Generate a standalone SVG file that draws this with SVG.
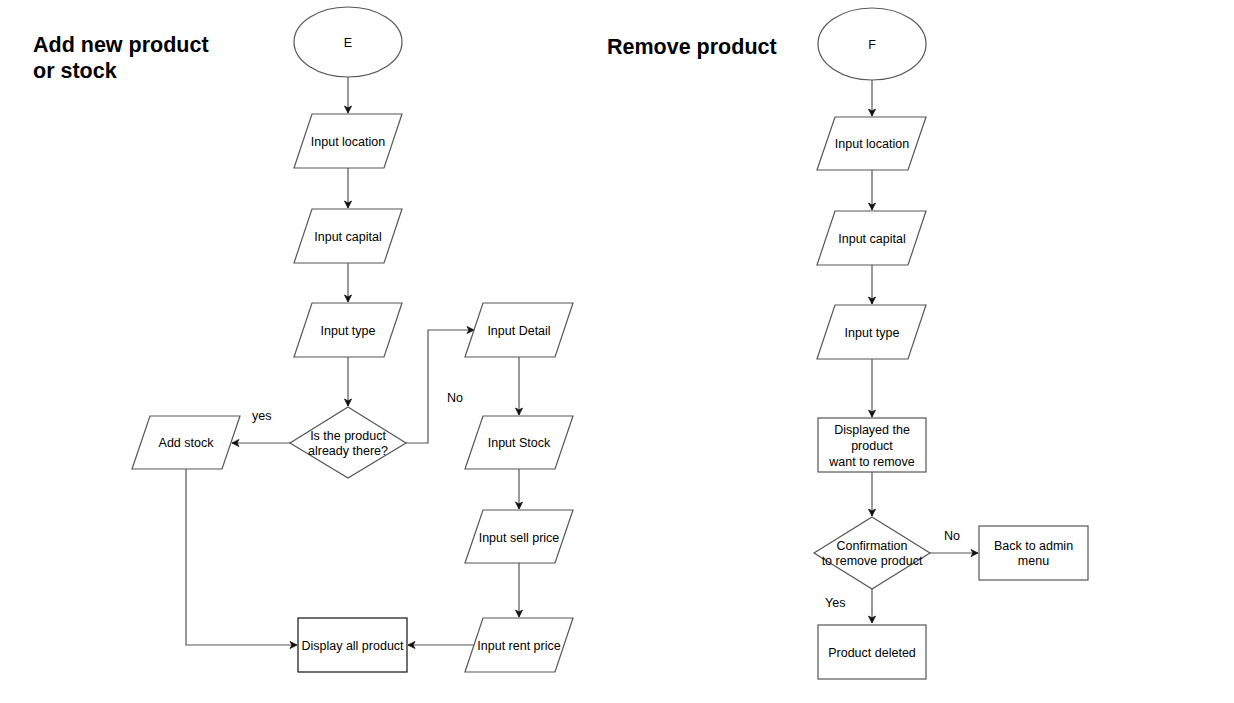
<svg xmlns="http://www.w3.org/2000/svg" width="1234" height="703" viewBox="0 0 1234 703">
<defs>
<style>
.s{fill:#fff;stroke:#555;stroke-width:1.2}
.k{fill:#fff;stroke:#111;stroke-width:1.2}
.t{font-family:"Liberation Sans",Arial,sans-serif;font-size:12.5px;fill:#000;text-anchor:middle}
.l{font-family:"Liberation Sans",Arial,sans-serif;font-size:12.5px;fill:#000}
.h{font-family:"Liberation Sans",Arial,sans-serif;font-size:21.5px;font-weight:bold;fill:#000}
.c{fill:none;stroke:#555;stroke-width:1.2}
</style>
<marker id="a" markerWidth="10" markerHeight="10" refX="8" refY="5" orient="auto" markerUnits="userSpaceOnUse">
<path d="M1,1.5 L8,5 L1,8.5 L3,5 Z" fill="#111" stroke="#111" stroke-width="0.8"/>
</marker>
</defs>
<rect width="1234" height="703" fill="#fff"/>
<text class="h" x="33" y="52">Add new product</text>
<text class="h" x="33" y="78">or stock</text>
<text class="h" x="607" y="54">Remove product</text>

<g id="connectors">
<path class="c" d="M348,77 V113" marker-end="url(#a)"/>
<path class="c" d="M348,168 V208" marker-end="url(#a)"/>
<path class="c" d="M348,263 V302" marker-end="url(#a)"/>
<path class="c" d="M348,357 V406" marker-end="url(#a)"/>
<path class="c" d="M290,443 H232" marker-end="url(#a)"/>
<path class="c" d="M406,443 H428 V330 H474" marker-end="url(#a)"/>
<path class="c" d="M519,357 V415" marker-end="url(#a)"/>
<path class="c" d="M519,469 V509" marker-end="url(#a)"/>
<path class="c" d="M519,563 V617" marker-end="url(#a)"/>
<path class="c" d="M474,645 H408" marker-end="url(#a)"/>
<path class="c" d="M186,469 V645 H297" marker-end="url(#a)"/>
<path class="c" d="M872,80 V116" marker-end="url(#a)"/>
<path class="c" d="M872,170 V210" marker-end="url(#a)"/>
<path class="c" d="M872,265 V304" marker-end="url(#a)"/>
<path class="c" d="M872,359 V417" marker-end="url(#a)"/>
<path class="c" d="M872,472 V516" marker-end="url(#a)"/>
<path class="c" d="M930,553 H978" marker-end="url(#a)"/>
<path class="c" d="M872,589 V623" marker-end="url(#a)"/>
<text class="l" x="252" y="420">yes</text>
<text class="l" x="447" y="402">No</text>
<text class="l" x="944" y="540">No</text>
<text class="l" x="825" y="607">Yes</text>
</g>

<g id="nodeE">
<ellipse class="s" cx="348" cy="42" rx="54" ry="35"/>
<text class="t" x="348" y="47">E</text>
</g>
<g id="inLoc1">
<polygon class="s" points="312,114 402,114 384,168 294,168"/>
<text class="t" x="348" y="146">Input location</text>
</g>
<g id="inCap1">
<polygon class="s" points="312,209 402,209 384,263 294,263"/>
<text class="t" x="348" y="241">Input capital</text>
</g>
<g id="inType1">
<polygon class="s" points="312,303 402,303 384,357 294,357"/>
<text class="t" x="348" y="335">Input type</text>
</g>
<g id="decision1">
<polygon class="s" points="348,407 406,443 348,478 290,443"/>
<text class="t" x="348" y="440">Is the product</text>
<text class="t" x="348" y="455">already there?</text>
</g>
<g id="addStock">
<polygon class="s" points="150,416 240,416 222,469 132,469"/>
<text class="t" x="186" y="447">Add stock</text>
</g>
<g id="inDetail">
<polygon class="s" points="483,303 573,303 555,357 465,357"/>
<text class="t" x="519" y="335">Input Detail</text>
</g>
<g id="inStock">
<polygon class="s" points="483,416 573,416 555,469 465,469"/>
<text class="t" x="519" y="447">Input Stock</text>
</g>
<g id="inSell">
<polygon class="s" points="483,510 573,510 555,563 465,563"/>
<text class="t" x="519" y="542">Input sell price</text>
</g>
<g id="inRent">
<polygon class="s" points="483,618 573,618 555,672 465,672"/>
<text class="t" x="519" y="650">Input rent price</text>
</g>
<g id="displayAll">
<rect class="k" x="298" y="618" width="109" height="54"/>
<text class="t" x="352.5" y="650">Display all product</text>
</g>

<g id="nodeF">
<ellipse class="s" cx="872" cy="44" rx="54" ry="36"/>
<text class="t" x="872" y="49">F</text>
</g>
<g id="inLoc2">
<polygon class="s" points="835,117 926,117 908,170 817,170"/>
<text class="t" x="872" y="148">Input location</text>
</g>
<g id="inCap2">
<polygon class="s" points="835,211 926,211 908,265 817,265"/>
<text class="t" x="872" y="243">Input capital</text>
</g>
<g id="inType2">
<polygon class="s" points="835,305 926,305 908,359 817,359"/>
<text class="t" x="872" y="337">Input type</text>
</g>
<g id="displayed">
<rect class="s" x="818" y="418" width="108" height="54"/>
<text class="t" x="872" y="434">Displayed the</text>
<text class="t" x="872" y="450">product</text>
<text class="t" x="872" y="466">want to remove</text>
</g>
<g id="decision2">
<polygon class="s" points="872,517 930,553 872,589 814,553"/>
<text class="t" x="872" y="550">Confirmation</text>
<text class="t" x="872" y="565">to remove product</text>
</g>
<g id="backAdmin">
<rect class="s" x="979" y="526" width="109" height="54"/>
<text class="t" x="1033.5" y="550">Back to admin</text>
<text class="t" x="1033.5" y="565">menu</text>
</g>
<g id="deleted">
<rect class="s" x="818" y="625" width="108" height="54"/>
<text class="t" x="872" y="657">Product deleted</text>
</g>
</svg>
